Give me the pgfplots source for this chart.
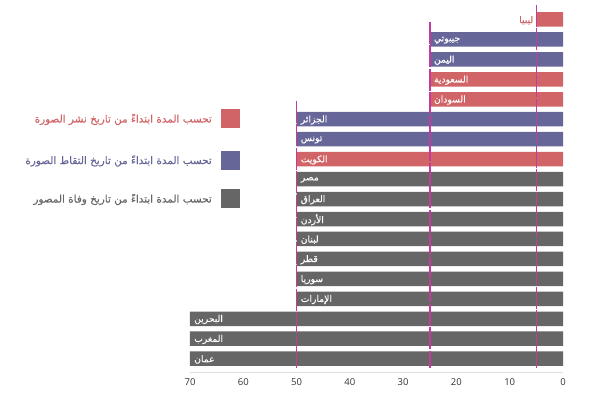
\documentclass[border=0pt]{standalone}
\usepackage{pgfplots}
\pgfplotsset{compat=1.18}
\usepackage{fontspec}
\setmainfont{Open Sans}
\newfontfamily\arabicfont[Script=Arabic, FakeBold=0.3]{DejaVu Sans}
\TeXXeTstate=1
\definecolor{cred}{HTML}{D06466}
\definecolor{cblue}{HTML}{666699}
\definecolor{cgray}{HTML}{666666}
\definecolor{cline}{HTML}{C43A9E}
\definecolor{axgray}{HTML}{DDDDDD}
\definecolor{tickgray}{HTML}{333333}
\newcommand{\lbl}[3]{\node[anchor=west, inner sep=0pt, xshift=4pt, yshift=-0.8pt, text=white, font=\arabicfont\fontsize{9.2}{10}\selectfont] at (axis cs:#1,#2) {\beginR #3\endR};}
\begin{document}
\begin{tikzpicture}
\path[use as bounding box] (0,0) rectangle (596pt,392pt);
\begin{axis}[
  at={(190pt,20pt)}, anchor=south west,
  scale only axis, width=373pt, height=372pt,
  xmin=0, xmax=70, x dir=reverse,
  ymin=-17.669, ymax=0.977,
  axis x line=bottom, axis y line=none,
  x axis line style={draw=axgray, line width=0.8pt, -},
  xtick={0,10,...,70}, major tick length=0pt,
  xticklabel style={font=\fontsize{9.5}{10}\selectfont, text=tickgray, yshift=-3pt},
  /pgf/number format/assume math mode=true,
  clip=false,
]
% published date (red)
\addplot[xbar, bar width=14.5pt, bar shift=0pt, fill=cred, draw=none] coordinates {(5,0) (25,-3) (25,-4) (50,-7)};
% capture date (blue)
\addplot[xbar, bar width=14.5pt, bar shift=0pt, fill=cblue, draw=none] coordinates {(25,-1) (25,-2) (50,-5) (50,-6)};
% photographer death (gray)
\addplot[xbar, bar width=14.5pt, bar shift=0pt, fill=cgray, draw=none] coordinates {(50,-8) (50,-9) (50,-10) (50,-11) (50,-12) (50,-13) (50,-14) (70,-15) (70,-16) (70,-17)};
% reference lines
\addplot[draw=cline, line width=1.1pt, dash pattern=on 22pt off 1.5pt, mark=none] coordinates {(5,0.727) (5,-17.47)};
\addplot[draw=cline, line width=1.3pt, dash pattern=on 22pt off 1.5pt, mark=none] coordinates {(24.96,-0.125) (24.96,-17.47)};
\addplot[draw=cline, line width=1.1pt, dash pattern=on 22pt off 1.5pt, mark=none] coordinates {(50,-4.085) (50,-17.47)};
% labels
\node[anchor=east, inner sep=0pt, xshift=-3pt, yshift=-0.8pt, text=cred, font=\arabicfont\fontsize{9.2}{10}\selectfont] at (axis cs:5,0) {\beginR ليبيا\endR};
\lbl{25}{-1}{جيبوتي}
\lbl{25}{-2}{اليمن}
\lbl{25}{-3}{السعودية}
\lbl{25}{-4}{السودان}
\lbl{50}{-5}{الجزائر}
\lbl{50}{-6}{تونس}
\lbl{50}{-7}{الكويت}
\lbl{50}{-8}{مصر}
\lbl{50}{-9}{العراق}
\lbl{50}{-10}{الأردن}
\lbl{50}{-11}{لبنان}
\lbl{50}{-12}{قطر}
\lbl{50}{-13}{سوريا}
\lbl{50}{-14}{الإمارات}
\lbl{70}{-15}{البحرين}
\lbl{70}{-16}{المغرب}
\lbl{70}{-17}{عمان}
\end{axis}
% legend
\fill[cred] (221pt,263.7pt) rectangle (240pt,282.7pt);
\fill[cblue] (221pt,222pt) rectangle (240pt,241pt);
\fill[cgray] (221pt,183.7pt) rectangle (240pt,202.7pt);
\node[anchor=east, inner sep=0pt, text=cred, font=\arabicfont\fontsize{10.4}{12}\selectfont] at (212pt,272.5pt) {\beginR تحسب المدة ابتداءً من تاريخ نشر الصورة\endR};
\node[anchor=east, inner sep=0pt, text=cblue, font=\arabicfont\fontsize{10.4}{12}\selectfont] at (212pt,231pt) {\beginR تحسب المدة ابتداءً من تاريخ التقاط الصورة\endR};
\node[anchor=east, inner sep=0pt, text=cgray, font=\arabicfont\fontsize{10.4}{12}\selectfont] at (212pt,192.5pt) {\beginR تحسب المدة ابتداءً من تاريخ وفاة المصور\endR};
\end{tikzpicture}
\end{document}
